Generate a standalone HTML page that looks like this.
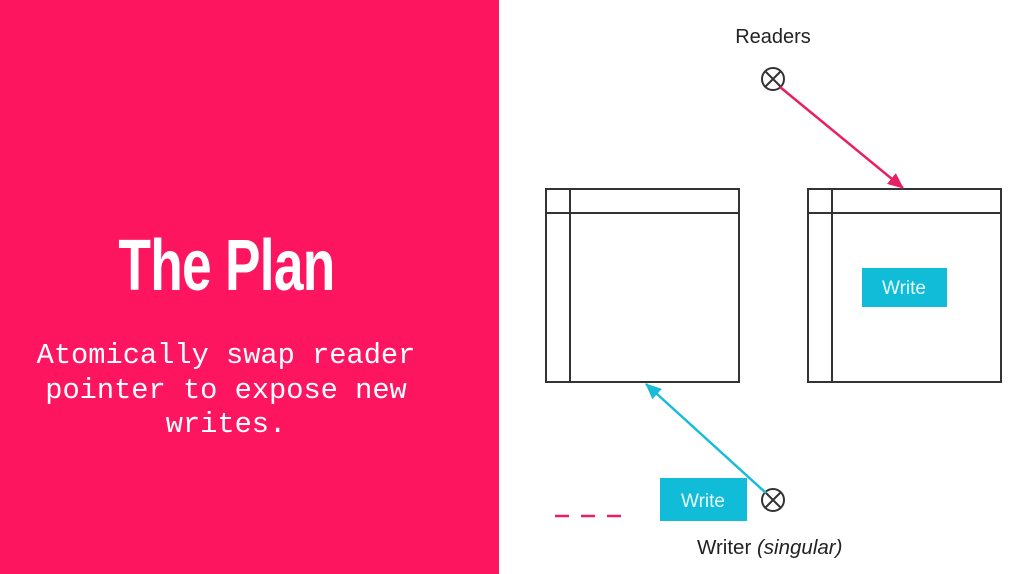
<html><head><style>
body{margin:0;width:1028px;height:574px;overflow:hidden;background:#fff;position:relative;font-family:"Liberation Sans",sans-serif}
.left{position:absolute;left:0;top:0;width:499px;height:574px;background:#fe1560}
.title{position:absolute;left:0;width:454px;top:225px;text-align:center;color:#fff;font-family:"Liberation Sans Narrow","Liberation Sans",sans-serif;font-size:72px;font-weight:bold;transform:scaleX(0.74);transform-origin:225px 0;letter-spacing:-1px}
.sub{position:absolute;left:0;width:452px;top:339px;text-align:center;color:#fff;font-family:"Liberation Mono",monospace;font-size:28.7px;line-height:34.5px}
</style></head><body>
<div class="left"></div>
<div class="title">The Plan</div>
<div class="sub">Atomically swap reader<br>pointer to expose new<br>writes.</div>
<svg style="position:absolute;left:0;top:0" width="1028" height="574">
<defs>
<marker id="mp" markerWidth="16" markerHeight="14" refX="15" refY="7" orient="auto" markerUnits="userSpaceOnUse" viewBox="0 0 16 14"><path d="M0,0 L16,7 L0,14z" fill="#e91e63"/></marker>
<marker id="mc" markerWidth="16" markerHeight="14" refX="15" refY="7" orient="auto" markerUnits="userSpaceOnUse" viewBox="0 0 16 14"><path d="M0,0 L16,7 L0,14z" fill="#18bcd8"/></marker>
</defs>
<g fill="none" stroke="#333" stroke-width="2">
<rect x="546" y="189" width="193" height="193"/><line x1="570" y1="189" x2="570" y2="382"/><line x1="546" y1="213" x2="739" y2="213"/>
<rect x="808" y="189" width="193" height="193"/><line x1="832" y1="189" x2="832" y2="382"/><line x1="808" y1="213" x2="1001" y2="213"/>
<circle cx="773" cy="79" r="11"/><line x1="765" y1="71" x2="781" y2="87"/><line x1="781" y1="71" x2="765" y2="87"/>
<circle cx="773" cy="500" r="11"/><line x1="765" y1="492" x2="781" y2="508"/><line x1="781" y1="492" x2="765" y2="508"/>
</g>
<line x1="780" y1="87" x2="903" y2="188" stroke="#e91e63" stroke-width="2.5" marker-end="url(#mp)"/>
<line x1="766" y1="493" x2="646" y2="384" stroke="#18bcd8" stroke-width="2.5" marker-end="url(#mc)"/>
<line x1="555" y1="516" x2="622" y2="516" stroke="#e91e63" stroke-width="2.5" stroke-dasharray="14,12"/>
<rect x="862" y="268" width="85" height="39" fill="#10bcd8"/>
<rect x="660" y="478" width="87" height="43" fill="#10bcd8"/>
<g font-family="Liberation Sans,sans-serif">
<text x="904" y="294" fill="#e8fbff" text-anchor="middle" font-size="19">Write</text>
<text x="703" y="507" fill="#e8fbff" text-anchor="middle" font-size="19">Write</text>
<text x="773" y="43" fill="#222" text-anchor="middle" font-size="20">Readers</text>
<text x="697" y="554" fill="#222" font-size="20.5">Writer <tspan font-style="italic">(singular)</tspan></text>
</g>
</svg>
</body></html>
